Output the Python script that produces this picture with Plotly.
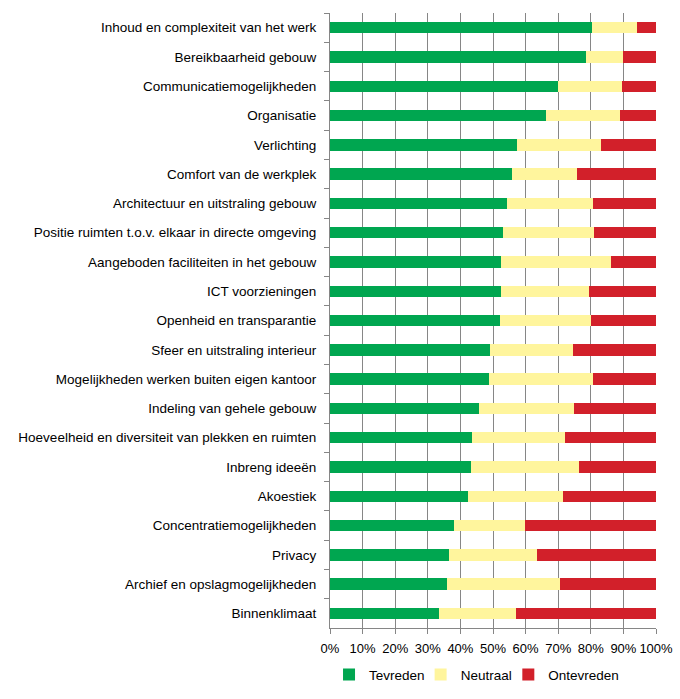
import plotly.graph_objects as go

categories = [
    "Inhoud en complexiteit van het werk",
    "Bereikbaarheid gebouw",
    "Communicatiemogelijkheden",
    "Organisatie",
    "Verlichting",
    "Comfort van de werkplek",
    "Architectuur en uitstraling gebouw",
    "Positie ruimten t.o.v. elkaar in directe omgeving",
    "Aangeboden faciliteiten in het gebouw",
    "ICT voorzieningen",
    "Openheid en transparantie",
    "Sfeer en uitstraling interieur",
    "Mogelijkheden werken buiten eigen kantoor",
    "Indeling van gehele gebouw",
    "Hoeveelheid en diversiteit van plekken en ruimten",
    "Inbreng ideeën",
    "Akoestiek",
    "Concentratiemogelijkheden",
    "Privacy",
    "Archief en opslagmogelijkheden",
    "Binnenklimaat",
]

tevreden = [80.3, 78.5, 70.0, 66.3, 57.4, 55.9, 54.3, 53.1, 52.5, 52.5, 52.2,
            49.1, 48.8, 45.8, 43.6, 43.3, 42.3, 38.0, 36.5, 35.9, 33.4]
cumulative_neutraal = [94.1, 89.9, 89.5, 89.0, 83.1, 75.8, 80.7, 81.0, 86.2, 79.5, 80.1,
                       74.6, 80.7, 74.9, 72.1, 76.4, 71.5, 59.9, 63.5, 70.6, 57.1]
neutraal = [round(c - t, 1) for c, t in zip(cumulative_neutraal, tevreden)]
ontevreden = [round(100 - c, 1) for c in cumulative_neutraal]

series_names = ["Tevreden", "Neutraal", "Ontevreden"]
colors = ["#00A650", "#FFF59D", "#D2202A"]
legend_ids = ["legend", "legend2", "legend3"]
legend_x = [-0.003, 0.278, 0.547]

fig = go.Figure()
for name, vals, col, lid in zip(series_names, [tevreden, neutraal, ontevreden], colors, legend_ids):
    fig.add_trace(go.Bar(
        y=categories, x=vals, name=name, orientation="h",
        marker=dict(color=col, line=dict(width=0)),
        legend=lid,
    ))

font_family = "Liberation Sans"
legend_common = dict(
    orientation="h", y=-0.076, yanchor="middle", xanchor="left",
    font=dict(size=13.5, color="#000000"), itemwidth=30,
    itemclick=False, bgcolor="rgba(0,0,0,0)",
)
fig.update_layout(
    barmode="stack",
    bargap=0.61,
    width=680, height=699,
    margin=dict(l=330, r=24, t=13, b=71, autoexpand=False),
    paper_bgcolor="white", plot_bgcolor="white",
    font=dict(family=font_family, size=13, color="#000000"),
    showlegend=True,
    legend=dict(x=legend_x[0], **legend_common),
    legend2=dict(x=legend_x[1], **legend_common),
    legend3=dict(x=legend_x[2], **legend_common),
)
fig.update_xaxes(
    range=[0, 100], tickvals=list(range(0, 101, 10)),
    ticktext=[f"{v}%" for v in range(0, 101, 10)],
    showgrid=True, gridcolor="#868686", gridwidth=1,
    showline=True, linecolor="#868686", linewidth=1,
    ticks="outside", ticklen=5, tickcolor="#868686",
    tickfont=dict(size=13), tickangle=0, zeroline=False, automargin=False,
    ticklabelstandoff=3,
)
fig.update_yaxes(
    autorange="reversed", type="category",
    showline=True, linecolor="#868686", linewidth=1,
    ticks="outside", ticklen=5, tickcolor="#868686", tickson="boundaries",
    tickfont=dict(size=13.5), showgrid=False, ticklabelstandoff=10,
    automargin=False,
)
fig.write_html("out.html")
